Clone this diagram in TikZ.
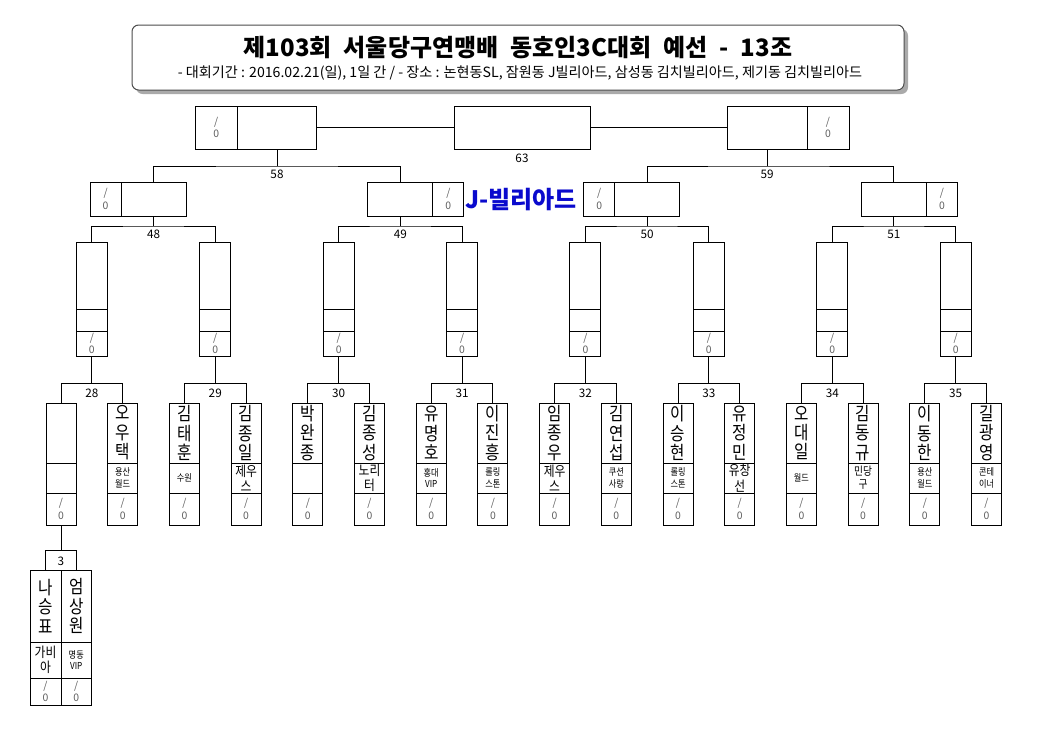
\documentclass[tikz,border=0pt]{standalone}
\usepackage{fontspec}
\setmainfont{Noto Sans CJK KR}
\newfontfamily\cond[FakeStretch=0.85]{Noto Sans CJK KR}
\definecolor{scoregray}{RGB}{95,95,95}
\definecolor{jblue}{RGB}{10,10,205}
\definecolor{shadowgray}{RGB}{170,170,170}
\newcommand\namefont{\cond\fontsize{13.8pt}{14.6pt}\selectfont}
\newcommand\clubS{\cond\fontsize{7.2pt}{8.6pt}\selectfont}
\newcommand\clubM{\cond\fontsize{8.6pt}{9.6pt}\selectfont}
\newcommand\clubL{\cond\fontsize{10.4pt}{11.6pt}\selectfont}
\newcommand\scorefont{\fontsize{7.8pt}{9.4pt}\selectfont}
\newcommand{\mkcell}[7][]{%
  \node[cell,#1,minimum width={(#5-#3)*0.75pt},minimum height={(#6-#4)*0.75pt}] (#2) at ({(#3+#5)/2},{(#4+#6)/2}) {#7};}
\begin{document}
\begin{tikzpicture}[x=0.75pt,y=-0.75pt,
  cell/.style={draw, line width=0.75pt, inner sep=0pt, outer sep=0pt, align=center},
  score/.style={text=scoregray, font=\scorefont},
  conn/.style={line width=0.75pt},
  num/.style={font=\fontsize{8.8pt}{10pt}\selectfont, inner sep=0pt}]
\useasboundingbox (0,0) rectangle (1041,729);
\fill[white] (0,0) rectangle (1041,729);
% title
\mkcell[draw=none, fill=shadowgray, rounded corners=5pt]{tshadow}{136}{29}{908}{94}{}
\mkcell[draw=black!70, fill=white, rounded corners=5pt]{tbox}{132}{25}{904}{90}{}
\node[font=\bfseries\fontsize{18pt}{20pt}\selectfont, inner sep=0pt] (ttl) at (518,48) {\spaceskip=0.5em plus 0.1em\relax 제103회 서울당구연맹배 동호인3C대회 예선 - 13조};
\node[font=\fontsize{10.6pt}{12pt}\selectfont, inner sep=0pt] (sub) at (520,73) {- 대회기간 : 2016.02.21(일), 1일 간 / - 장소 : 논현동SL, 잠원동 J빌리아드, 삼성동 김치빌리아드, 제기동 김치빌리아드};
% leaves
\foreach \k/\nm/\cl/\cf in {
 0/{}/{}/\clubS,
 1/{오\\우\\택}/{용산\\월드}/\clubS,
 2/{김\\태\\훈}/{수원}/\clubS,
 3/{김\\종\\일}/{제우\\스}/\clubL,
 4/{박\\완\\종}/{}/\clubS,
 5/{김\\종\\성}/{노리\\터}/\clubL,
 6/{유\\명\\호}/{홍대\\VIP}/\clubS,
 7/{이\\진\\흥}/{롤링\\스톤}/\clubS,
 8/{임\\종\\우}/{제우\\스}/\clubL,
 9/{김\\연\\섭}/{쿠션\\사랑}/\clubS,
 10/{이\\승\\현}/{롤링\\스톤}/\clubS,
 11/{유\\정\\민}/{유창\\선}/\clubL,
 12/{오\\대\\일}/{월드}/\clubS,
 13/{김\\동\\규}/{민당\\구}/\clubM,
 14/{이\\동\\한}/{용산\\월드}/\clubS,
 15/{길\\광\\영}/{콘테\\이너}/\clubS}{
 \pgfmathsetmacro\xl{46+61.7*\k}
 \pgfmathsetmacro\xr{\xl+30}
 \mkcell[font=\namefont]{pn\k}{\xl}{403}{\xr}{463}{\nm}
 \mkcell[font=\cf]{pc\k}{\xl}{463}{\xr}{493}{\cl}
 \mkcell[score]{ps\k}{\xl}{493}{\xr}{525}{/\\0}
}
% level 1 (16 -> 8)
\foreach \j in {0,...,7}{
 \pgfmathsetmacro\mx{91.85+123.4*\j}
 \pgfmathsetmacro\xa{\mx-15.5}
 \pgfmathsetmacro\xb{\mx+15.5}
 \mkcell{an\j}{\xa}{242}{\xb}{309}{}
 \mkcell{ac\j}{\xa}{309}{\xb}{331}{}
 \mkcell[score]{as\j}{\xa}{331}{\xb}{356}{/\\0}
 \pgfmathtruncatemacro\ka{2*\j}
 \pgfmathtruncatemacro\kb{2*\j+1}
 \pgfmathtruncatemacro\lab{28+\j}
 \coordinate (ba\j) at (\mx,383);
 \draw[conn] (pn\ka.north) |- (ba\j) -| (pn\kb.north);
 \draw[conn] (as\j.south) -- (ba\j);
 \node[num] (la\j) at (\mx,393.5) {\lab};
}
% level 2 (8 -> 4)
\foreach \i in {0,...,3}{
 \pgfmathsetmacro\nx{153.55+246.8*\i}
 \pgfmathsetmacro\xa{\nx-32.5}
 \pgfmathsetmacro\xb{\nx+32.5}
 \mkcell{bn\i}{\xa}{182}{\xb}{216}{}
 \pgfmathtruncatemacro\odd{mod(\i,2)}
 \ifnum\odd=0
   \pgfmathsetmacro\sa{\nx-63.5}
   \mkcell[score]{bs\i}{\sa}{182}{\xa}{216}{/\\0}
 \else
   \pgfmathsetmacro\sb{\nx+63.5}
   \mkcell[score]{bs\i}{\xb}{182}{\sb}{216}{/\\0}
 \fi
 \pgfmathtruncatemacro\ja{2*\i}
 \pgfmathtruncatemacro\jb{2*\i+1}
 \pgfmathtruncatemacro\lab{48+\i}
 \coordinate (bb\i) at (\nx,226);
 \draw[conn] (an\ja.north) |- (bb\i) -| (an\jb.north);
 \draw[conn] (bn\i.south) -- (bb\i);
 \node[num] (lb\i) at (\nx,234.5) {\lab};
}
% level 3
\mkcell[score]{cs0}{195}{106}{237.5}{149}{/\\0}
\mkcell{cn0}{237.5}{106}{316.5}{149}{}
\mkcell{cn1}{727}{106}{807}{149}{}
\mkcell[score]{cs1}{807}{106}{849}{149}{/\\0}
\coordinate (bc0) at (277,166);
\coordinate (bc1) at (767,166);
\draw[conn] (bn0.north) |- (bc0) -| (bn1.north);
\draw[conn] (cn0.south) -- (bc0);
\node[num] (lc0) at (277,174) {58};
\draw[conn] (bn2.north) |- (bc1) -| (bn3.north);
\draw[conn] (cn1.south) -- (bc1);
\node[num] (lc1) at (767,174) {59};
% final
\mkcell{fin}{454}{106}{590}{149}{}
\draw[conn] (cn0.east) -- (fin.west);
\draw[conn] (fin.east) -- (cn1.west);
\node[num] (lfin) at (522,158) {63};
% J-billiard label
\node[font=\bfseries\fontsize{18pt}{20pt}\selectfont, text=jblue, inner sep=0pt] (jb) at (521,200) {J-빌리아드};
% match 3
\mkcell[font=\namefont]{qn0}{30}{570}{61}{642}{나\\승\\표}
\mkcell[font=\clubL]{qc0}{30}{642}{61}{678}{가비\\아}
\mkcell[score]{qs0}{30}{678}{61}{705}{/\\0}
\mkcell[font=\namefont]{qn1}{61}{570}{91.5}{642}{엄\\상\\원}
\mkcell[font=\clubS]{qc1}{61}{642}{91.5}{678}{명동\\VIP}
\mkcell[score]{qs1}{61}{678}{91.5}{705}{/\\0}
\coordinate (b3) at (61,550);
\draw[conn] (qn0.north) |- (b3) -| (qn1.north);
\draw[conn] (ps0.south) -- (b3);
\node[num] (l3) at (61,561) {3};
\end{tikzpicture}
\end{document}
